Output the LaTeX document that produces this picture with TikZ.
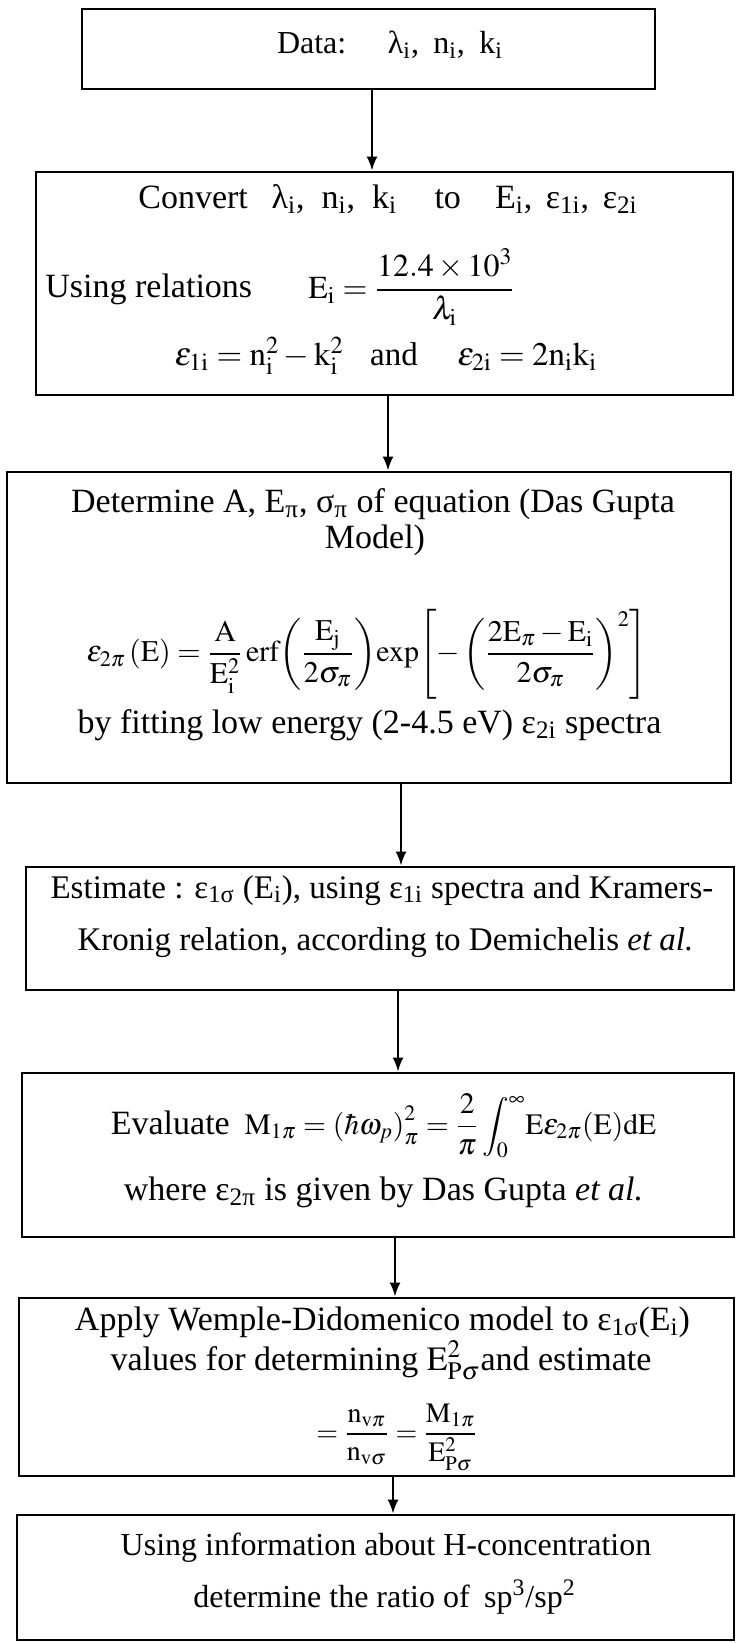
\documentclass[tikz,border=0pt]{standalone}
\usepackage{amsmath}
\usepackage{mathptmx}
\usepackage{fontspec}
\setmainfont{Liberation Serif}
\usetikzlibrary{arrows.meta}

\tikzset{
  stepbox/.style={draw,line width=1.4pt,inner sep=0pt},
  flow/.style={line width=1.1pt,-{Latex[length=7pt,width=5.5pt]}},
  txt/.style={anchor=base,inner sep=0pt},
  big/.style={font=\fontsize{17}{20}\selectfont}
}

\begin{document}
\begin{tikzpicture}[x=0.5pt,y=-0.5pt,font=\fontsize{14}{17}\selectfont]
  \useasboundingbox (0,0) rectangle (735,1643);

  % boxes
  \node[stepbox,minimum width=286.5pt,minimum height=40pt]   (data) at (368.5,49) {};
  \node[stepbox,minimum width=348.5pt,minimum height=111.5pt] (conv) at (384.5,283.5) {};
  \node[stepbox,minimum width=362pt,minimum height=155.5pt]   (fit)  at (369,627.5) {};
  \node[stepbox,minimum width=354pt,minimum height=61.5pt]    (kk)   at (380,928.5) {};
  \node[stepbox,minimum width=356pt,minimum height=82pt]      (eval) at (378,1155) {};
  \node[stepbox,minimum width=357.5pt,minimum height=89pt]    (wdm)  at (376.5,1387) {};
  \node[stepbox,minimum width=358.5pt,minimum height=62.5pt]  (ratio) at (375.5,1577.5) {};

  % texts
  \node[txt,font=\fontsize{16}{19}\selectfont] (t1) at (390,54) {Data:\hspace{1.3em}λ\textsubscript{i},\hspace{0.45em}n\textsubscript{i},\hspace{0.45em}k\textsubscript{i}};

  \node[txt,big] (t2a) at (388,208) {Convert\hspace{0.7em}λ\textsubscript{i},\hspace{0.5em}n\textsubscript{i},\hspace{0.5em}k\textsubscript{i}\hspace{1.1em}to\hspace{1em}E\textsubscript{i},\hspace{0.4em}ε\textsubscript{1i},\hspace{0.4em}ε\textsubscript{2i}};
  \node[txt,big,anchor=base west] (t2b) at (45,297) {Using relations};
  \node[anchor=west,inner sep=0pt,font=\fontsize{16}{19}\selectfont] (t2c) at (308,287) {$\mathrm{E_i} = \dfrac{12.4\times10^{3}}{\lambda_{\mathrm{i}}}$};
  \node[txt,font=\fontsize{16.5}{19}\selectfont] (t2d) at (386,365) {$\varepsilon_{\mathrm{1i}} = \mathrm{n_i^2 - k_i^2}$\hspace{0.8em}and\hspace{1.2em}$\varepsilon_{\mathrm{2i}} = \mathrm{2n_ik_i}$};

  \node[txt,big] (t3a) at (373,512) {Determine A, E\textsubscript{π}, σ\textsubscript{π} of equation (Das Gupta};
  \node[txt,big] (t3b) at (375,548) {Model)};
  \node[inner sep=0pt,font=\fontsize{15}{18}\selectfont] (t3c) at (367,654) {$\varepsilon_{2\pi}\,(\mathrm{E}) = \dfrac{\mathrm{A}}{\mathrm{E_i^2}}\,\mathrm{erf}\!\left(\dfrac{\mathrm{E_j}}{2\sigma_\pi}\right)\!\mathrm{exp}\!\left[-\left(\dfrac{2\mathrm{E}_\pi-\mathrm{E_i}}{2\sigma_\pi}\right)^{2}\right]$};
  \node[txt,big] (t3d) at (369.5,733) {by fitting low energy (2-4.5 eV) ε\textsubscript{2i} spectra};

  \node[txt,font=\fontsize{16.5}{19}\selectfont] (t4a) at (382,898) {Estimate : ε\textsubscript{1σ} (E\textsubscript{i}), using ε\textsubscript{1i} spectra and Kramers-};
  \node[txt,font=\fontsize{16.5}{19}\selectfont] (t4b) at (385.5,950) {Kronig relation, according to Demichelis \textit{et al.}};

  \node[txt,font=\fontsize{14.8}{18}\selectfont] (t5a) at (383.5,1134) {{\fontsize{17}{20}\selectfont Evaluate}\ \ $\mathrm{M}_{1\pi} = \left(\hbar\omega_{p}\right)_{\pi}^{2} = \dfrac{2}{\pi}\displaystyle\int_{0}^{\infty}\!\mathrm{E}\varepsilon_{2\pi}(\mathrm{E})\mathrm{dE}$};
  \node[txt,big] (t5b) at (383.5,1200) {where ε\textsubscript{2π} is given by Das Gupta \textit{et al.}};

  \node[txt,big] (t6a) at (382.5,1330) {Apply Wemple-Didomenico model to ε\textsubscript{1σ}(E\textsubscript{i})};
  \node[txt,big] (t6b) at (381,1370) {values for determining $\mathrm{E}^{2}_{\mathrm{P}\sigma}$and estimate};
  \node[txt] (t6c) at (397,1441) {$= \dfrac{\mathrm{n}_{\mathrm{v}\pi}}{\mathrm{n}_{\mathrm{v}\sigma}} = \dfrac{\mathrm{M}_{1\pi}}{\mathrm{E}^{2}_{\mathrm{P}\sigma}}$};

  \node[txt,font=\fontsize{16}{19}\selectfont] (t7a) at (386,1555) {Using information about H-concentration};
  \node[txt,font=\fontsize{16}{19}\selectfont] (t7b) at (384.5,1607) {determine the ratio of\hspace{0.2em} sp\textsuperscript{3}/sp\textsuperscript{2}};

  % arrows
  \draw[flow] ([xshift=1.75pt]data.south) -- ([xshift=1.75pt]data.south |- conv.north);
  \draw[flow] ([xshift=1.75pt]conv.south) -- ([xshift=1.75pt]conv.south |- fit.north);
  \draw[flow] ([xshift=16pt]fit.south) -- ([xshift=16pt]fit.south |- kk.north);
  \draw[flow] ([xshift=9pt]kk.south) -- ([xshift=9pt]kk.south |- eval.north);
  \draw[flow] ([xshift=8.5pt]eval.south) -- ([xshift=8.5pt]eval.south |- wdm.north);
  \draw[flow] ([xshift=8.25pt]wdm.south) -- ([xshift=8.25pt]wdm.south |- ratio.north);
\end{tikzpicture}
\end{document}
